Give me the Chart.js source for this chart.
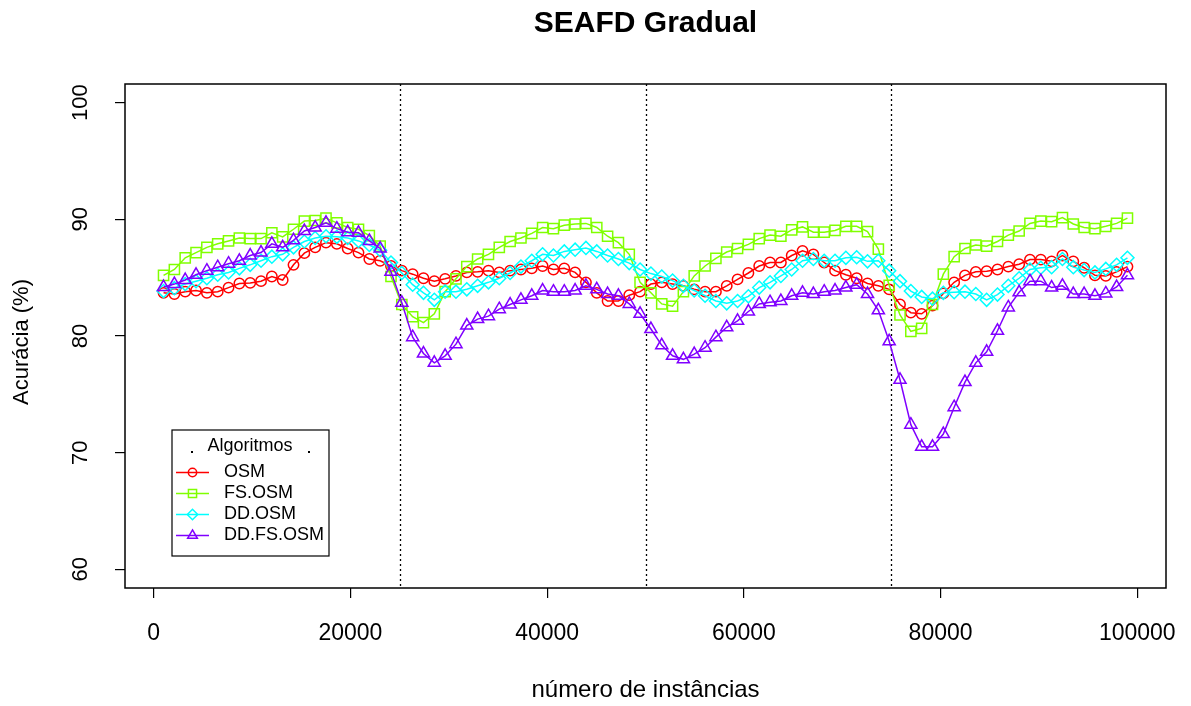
<!DOCTYPE html>
<html>
<head>
<meta charset="utf-8">
<script src="https://cdn.jsdelivr.net/npm/chart.js@4/dist/chart.umd.min.js"></script>
<style>
html,body{margin:0;padding:0;background:#fff;}
#wrap{width:1191px;height:706px;position:relative;}
</style>
</head>
<body>
<div id="wrap"><canvas id="c" width="1191" height="706"></canvas></div>
<script>
// ---- data ----
const chartTitle = 'SEAFD Gradual';
const xTitle = 'número de instâncias';
const yTitle = 'Acurácia (%)';
const legendTitle = 'Algoritmos';
const seriesNames = ['OSM', 'FS.OSM', 'DD.OSM', 'DD.FS.OSM'];
const xTicks = [0, 20000, 40000, 60000, 80000, 100000];
const yTicks = [60, 70, 80, 90, 100];
const driftPoints = [25000, 50000, 75000];

const instancias = [1000, 2101, 3202, 4303, 5404, 6506, 7607, 8708, 9809, 10910,
  12011, 13112, 14213, 15315, 16416, 17517, 18618, 19719, 20820, 21921,
  23022, 24124, 25225, 26326, 27427, 28528, 29629, 30730, 31831, 32933,
  34034, 35135, 36236, 37337, 38438, 39539, 40640, 41742, 42843, 43944,
  45045, 46146, 47247, 48348, 49449, 50551, 51652, 52753, 53854, 54955,
  56056, 57157, 58258, 59360, 60461, 61562, 62663, 63764, 64865, 65966,
  67067, 68169, 69270, 70371, 71472, 72573, 73674, 74775, 75876, 76978,
  78079, 79180, 80281, 81382, 82483, 83584, 84685, 85787, 86888, 87989,
  89090, 90191, 91292, 92393, 93494, 94596, 95697, 96798, 97899, 99000];

const osm = [83.7, 83.6, 83.8, 83.9, 83.7, 83.8, 84.15, 84.5, 84.55, 84.7,
  85.1, 84.8, 86.1, 87.1, 87.6, 88.0, 87.9, 87.5, 87.15, 86.6,
  86.45, 86.0, 85.6, 85.3, 84.95, 84.7, 84.9, 85.15, 85.45, 85.5,
  85.6, 85.45, 85.6, 85.7, 85.8, 86.0, 85.7, 85.8, 85.45, 84.6,
  83.7, 83.0, 83.0, 83.5, 83.8, 84.45, 84.6, 84.45, 84.3, 84.0,
  83.8, 83.8, 84.3, 84.85, 85.4, 86.0, 86.3, 86.3, 86.9, 87.3,
  87.0, 86.3, 85.6, 85.25, 84.95, 84.5, 84.3, 84.0, 82.7, 82.0,
  81.9, 82.6, 83.65, 84.6, 85.2, 85.5, 85.55, 85.7, 85.95, 86.15,
  86.55, 86.55, 86.4, 86.9, 86.4, 85.85, 85.2, 85.15, 85.5, 85.95];

const fsOsm = [85.2, 85.7, 86.7, 87.15, 87.6, 87.9, 88.15, 88.4, 88.35, 88.35,
  88.85, 88.5, 89.15, 89.85, 89.9, 90.1, 89.7, 89.3, 89.15, 88.6,
  87.7, 85.1, 82.7, 81.65, 81.15, 81.9, 83.8, 84.9, 85.95, 86.6,
  87.0, 87.6, 88.1, 88.4, 88.8, 89.3, 89.2, 89.5, 89.6, 89.65,
  89.3, 88.55, 88.0, 87.0, 84.6, 83.7, 82.75, 82.55, 83.8, 85.15,
  86.0, 86.65, 87.2, 87.5, 87.85, 88.35, 88.65, 88.55, 89.1, 89.35,
  88.9, 88.9, 89.05, 89.4, 89.4, 88.95, 87.45, 84.35, 81.8, 80.4,
  80.65, 82.7, 85.3, 86.8, 87.5, 87.8, 87.7, 88.1, 88.65, 89.0,
  89.65, 89.85, 89.8, 90.15, 89.6, 89.3, 89.2, 89.4, 89.65, 90.1];

const ddOsm = [83.85, 84.1, 84.45, 84.7, 84.95, 85.25, 85.45, 85.8, 86.1, 86.45,
  86.8, 87.0, 87.6, 88.1, 88.4, 88.55, 88.5, 88.4, 88.15, 87.8,
  87.35, 86.3, 85.4, 84.4, 83.7, 83.1, 83.8, 83.8, 84.0, 84.3,
  84.6, 84.95, 85.4, 85.95, 86.45, 87.0, 86.9, 87.25, 87.4, 87.55,
  87.25, 86.9, 86.6, 86.25, 85.7, 85.35, 85.1, 84.75, 84.3, 83.9,
  83.45, 83.0, 82.8, 83.0, 83.4, 84.15, 84.6, 85.15, 85.7, 86.45,
  86.6, 86.45, 86.45, 86.7, 86.75, 86.4, 86.45, 85.6, 84.7, 83.85,
  83.35, 83.2, 83.7, 83.75, 83.8, 83.6, 83.1, 83.55, 84.3, 84.95,
  85.7, 85.85, 85.9, 86.6, 85.9, 85.65, 85.45, 85.75, 86.1, 86.7];

const ddFsOsm = [84.2, 84.45, 84.8, 85.25, 85.6, 85.9, 86.2, 86.45, 86.9, 87.15,
  87.9, 87.6, 88.2, 89.0, 89.3, 89.7, 89.2, 88.9, 88.85, 88.15,
  87.5, 85.5, 82.85, 79.9, 78.5, 77.7, 78.3, 79.3, 80.9, 81.45,
  81.7, 82.3, 82.7, 83.1, 83.45, 83.9, 83.8, 83.8, 83.9, 84.3,
  84.0, 83.6, 83.45, 82.75, 81.9, 80.6, 79.2, 78.3, 78.0, 78.45,
  79.0, 79.9, 80.75, 81.3, 82.1, 82.75, 82.9, 83.0, 83.45, 83.7,
  83.6, 83.8, 83.9, 84.15, 84.4, 83.6, 82.2, 79.55, 76.25, 72.4,
  70.5, 70.5, 71.6, 73.9, 76.05, 77.7, 78.65, 80.45, 82.45, 83.75,
  84.7, 84.7, 84.15, 84.3, 83.6, 83.6, 83.45, 83.65, 84.2, 85.2];

// ---- styles ----
const seriesValues = [osm, fsOsm, ddOsm, ddFsOsm];
const colors = ['#FF0000', '#80FF00', '#00FFFF', '#8000FF'];
const markers = [
  {style: 'circle', r: 5.2},
  {style: 'rect', r: 7.2},
  {style: 'rectRot', r: 6.5},
  {style: 'triangle', r: 7}
];
const FONT = '"Liberation Sans", Arial, Helvetica, sans-serif';
const LW = 1.5;

function drawMarker(ctx, style, r, x, y) {
  ctx.beginPath();
  if (style === 'circle') {
    ctx.arc(x, y, r, 0, Math.PI * 2);
  } else if (style === 'rect') {
    const s = r * Math.SQRT1_2;
    ctx.rect(x - s, y - s, 2 * s, 2 * s);
  } else if (style === 'rectRot') {
    ctx.moveTo(x - r, y); ctx.lineTo(x, y - r); ctx.lineTo(x + r, y); ctx.lineTo(x, y + r); ctx.closePath();
  } else if (style === 'triangle') {
    for (let k = 0; k < 3; k++) {
      const a = k * 2 * Math.PI / 3;
      const px = x + Math.sin(a) * r, py = y - Math.cos(a) * r;
      if (k === 0) ctx.moveTo(px, py); else ctx.lineTo(px, py);
    }
    ctx.closePath();
  }
  ctx.stroke();
}

const decor = {
  id: 'decor',
  beforeDatasetsDraw(chart) {
    const {ctx, chartArea: a, scales} = chart;
    ctx.save();
    ctx.strokeStyle = '#000';
    ctx.lineWidth = 1.3;
    ctx.setLineDash([2, 3]);
    driftPoints.forEach(v => {
      const px = Math.round(scales.x.getPixelForValue(v)) + 0.5;
      ctx.beginPath(); ctx.moveTo(px, a.top); ctx.lineTo(px, a.bottom); ctx.stroke();
    });
    ctx.restore();
  },
  afterDraw(chart) {
    const {ctx, chartArea: a, scales} = chart;
    ctx.save();
    // box
    ctx.strokeStyle = '#000';
    ctx.lineWidth = 1.5;
    ctx.strokeRect(a.left, a.top, a.right - a.left, a.bottom - a.top);
    // y tick labels (rotated like R)
    ctx.fillStyle = '#000';
    ctx.font = '22px ' + FONT;
    ctx.textAlign = 'center';
    ctx.textBaseline = 'middle';
    yTicks.forEach(v => {
      const py = scales.y.getPixelForValue(v);
      ctx.save(); ctx.translate(81, py); ctx.rotate(-Math.PI / 2);
      ctx.fillText(String(v), 0, 0); ctx.restore();
    });
    // y title
    ctx.save(); ctx.translate(22, (a.top + a.bottom) / 2 + 6); ctx.rotate(-Math.PI / 2);
    ctx.fillText(yTitle, 0, 0); ctx.restore();
    // x title
    ctx.font = '24px ' + FONT;
    ctx.fillText(xTitle, (a.left + a.right) / 2, 690);
    // main title
    ctx.font = 'bold 30px ' + FONT;
    ctx.fillText(chartTitle, (a.left + a.right) / 2, 24);
    // legend
    const L = {x: 172, y: 430, w: 157, h: 126};
    ctx.lineWidth = 1.2;
    ctx.strokeRect(L.x, L.y, L.w, L.h);
    ctx.font = '18px ' + FONT;
    ctx.textAlign = 'center';
    ctx.fillText(legendTitle, 250, 446);
    ctx.fillRect(191, 451, 2, 2);
    ctx.fillRect(308, 451, 2, 2);
    ctx.textAlign = 'left';
    const rows = [472.5, 493.5, 514.5, 535.5];
    seriesNames.forEach((n, k) => {
      const yy = rows[k];
      ctx.strokeStyle = colors[k];
      ctx.lineWidth = LW;
      ctx.beginPath(); ctx.moveTo(176, yy); ctx.lineTo(209, yy); ctx.stroke();
      drawMarker(ctx, markers[k].style, markers[k].r * 0.8, 192.5, yy);
      ctx.fillStyle = '#000';
      ctx.fillText(n, 224, yy);
    });
    ctx.restore();
  }
};

const datasets = seriesNames.map((name, k) => ({
  label: name,
  data: instancias.map((x, i) => ({x: x, y: seriesValues[k][i]})),
  borderColor: colors[k],
  backgroundColor: 'rgba(0,0,0,0)',
  pointBackgroundColor: 'rgba(0,0,0,0)',
  pointBorderColor: colors[k],
  pointStyle: markers[k].style,
  pointRadius: markers[k].r,
  pointBorderWidth: LW,
  borderWidth: LW,
  tension: 0,
  fill: false,
  order: 3 - k
}));

new Chart(document.getElementById('c'), {
  type: 'line',
  data: {datasets: datasets},
  options: {
    responsive: false,
    animation: false,
    devicePixelRatio: 1,
    layout: {padding: {top: 84, right: 25, left: 0, bottom: 0}},
    plugins: {legend: {display: false}, title: {display: false}, tooltip: {enabled: false}},
    scales: {
      x: {
        type: 'linear', min: -2920, max: 102920,
        afterBuildTicks: s => { s.ticks = xTicks.map(v => ({value: v})); },
        afterFit: s => { s.height = 118; s.paddingLeft = 0; s.paddingRight = 0; },
        grid: {display: true, drawOnChartArea: false, drawTicks: true, tickLength: 10, color: '#000', lineWidth: 1.2},
        border: {display: false},
        ticks: {color: '#000', font: {family: FONT, size: 23}, padding: 22, maxRotation: 0, minRotation: 0, autoSkip: false,
                callback: v => String(v)}
      },
      y: {
        type: 'linear', min: 58.4, max: 101.6,
        afterBuildTicks: s => { s.ticks = yTicks.map(v => ({value: v})); },
        afterFit: s => { s.width = 125; s.paddingTop = 0; s.paddingBottom = 0; },
        grid: {display: true, drawOnChartArea: false, drawTicks: true, tickLength: 10, color: '#000', lineWidth: 1.2},
        border: {display: false},
        ticks: {display: false}
      }
    }
  },
  plugins: [decor]
});
</script>
</body>
</html>
